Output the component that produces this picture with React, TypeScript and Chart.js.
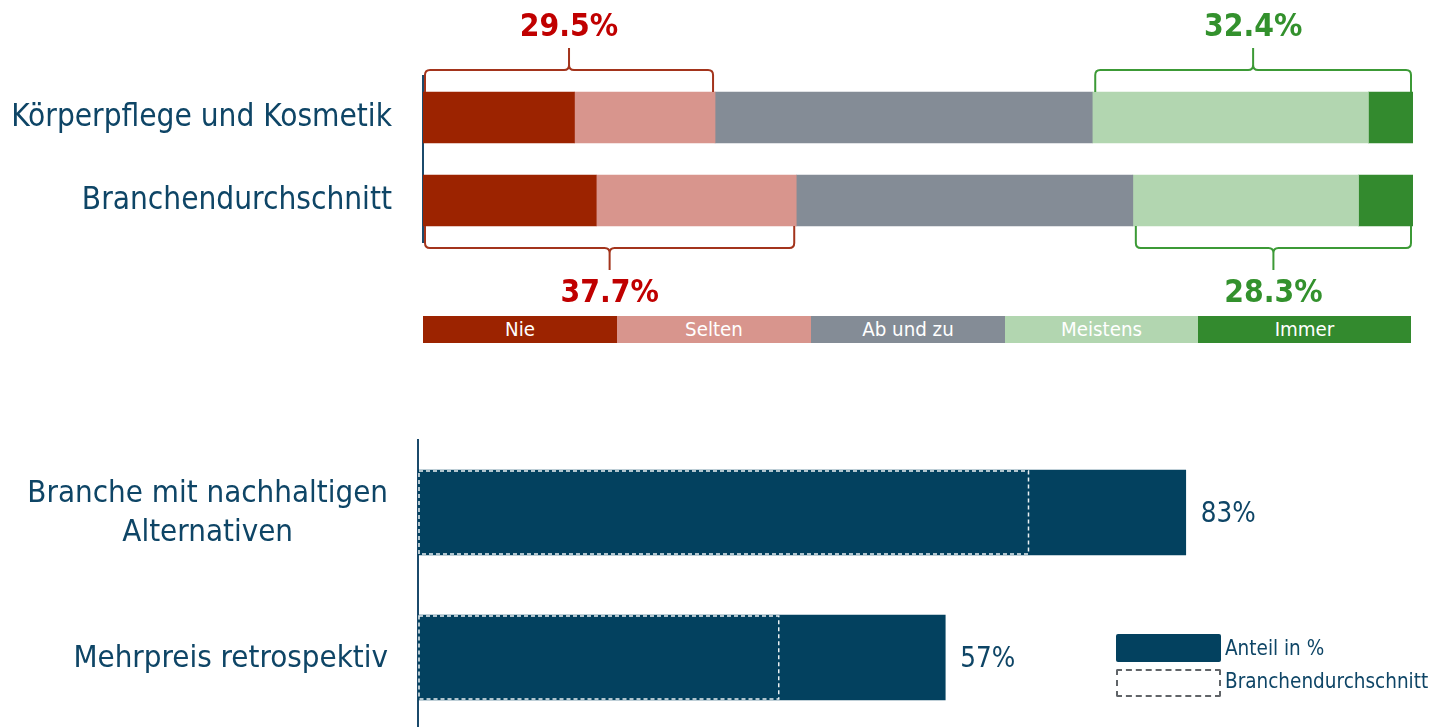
import React, { useEffect, useRef } from "react";
import { Chart, registerables } from "chart.js";

Chart.register(...registerables);

// ---------- data ----------
const topCategories = ["Körperpflege und Kosmetik", "Branchendurchschnitt"];
const frequencyLevels = ["Nie", "Selten", "Ab und zu", "Meistens", "Immer"];
const nieValues = [15.3, 17.5];
const seltenValues = [14.2, 20.2];
const abUndZuValues = [38.1, 34.0];
const meistensValues = [27.9, 22.8];
const immerValues = [4.5, 5.5];

const bottomCategories = [["Branche mit nachhaltigen", "Alternativen"], ["Mehrpreis retrospektiv"]];
const bottomSeriesLabels = ["Anteil in %", "Branchendurchschnitt"];
const shareValues = [83, 57];
const industryAverageValues = [66, 39];

// ---------- styles ----------
const FONT = "'DejaVu Sans Condensed', 'DejaVu Sans', sans-serif";
const levelColors = ["#9C2300", "#D8958D", "#848C96", "#B2D6B0", "#338A2E"];
const TEXT_BLUE = "#0E4566";
const BAR_BLUE = "#03415F";
const AXIS_BLUE = "#1B4A6B";
const RED_LINE = "#A3341C";
const RED_TEXT = "#C00000";
const GREEN_LINE = "#3C9A36";
const GREEN_TEXT = "#33912D";

function drawBracket(
  ctx: CanvasRenderingContext2D,
  x1: number,
  x2: number,
  yEnd: number,
  dir: number,
  lineColor: string,
  textColor: string,
  label: string
) {
  const r = 5;
  const yH = yEnd + dir * 22;
  const yTip = yH + dir * 22;
  const xm = (x1 + x2) / 2;
  ctx.save();
  ctx.strokeStyle = lineColor;
  ctx.lineWidth = 2;
  ctx.lineJoin = "round";
  ctx.beginPath();
  ctx.moveTo(x1, yEnd);
  ctx.lineTo(x1, yH - dir * r);
  ctx.quadraticCurveTo(x1, yH, x1 + r, yH);
  ctx.lineTo(xm - r, yH);
  ctx.quadraticCurveTo(xm, yH, xm, yH + dir * r);
  ctx.lineTo(xm, yTip);
  ctx.moveTo(xm, yH + dir * r);
  ctx.quadraticCurveTo(xm, yH, xm + r, yH);
  ctx.lineTo(x2 - r, yH);
  ctx.quadraticCurveTo(x2, yH, x2, yH - dir * r);
  ctx.lineTo(x2, yEnd);
  ctx.stroke();

  ctx.fillStyle = textColor;
  ctx.font = `bold 31.5px ${FONT}`;
  ctx.textAlign = "center";
  ctx.textBaseline = "alphabetic";
  const baseline = dir < 0 ? yTip - 12 : yTip + 32;
  ctx.fillText(label, xm, baseline);
  ctx.restore();
}

const bracketPlugin = {
  id: "brackets",
  afterDatasetsDraw(chart: any) {
    const ctx = chart.ctx as CanvasRenderingContext2D;
    const xs = chart.scales.x;
    const meta = chart.getDatasetMeta(0);
    [0, 1].forEach((row) => {
      const el = meta.data[row] as any;
      const dir = row === 0 ? -1 : 1;
      const yEnd = el.y + dir * (el.height / 2);
      const negSum = nieValues[row] + seltenValues[row];
      const posSum = meistensValues[row] + immerValues[row];
      drawBracket(
        ctx,
        xs.getPixelForValue(0) + 2,
        xs.getPixelForValue(negSum) - 2,
        yEnd,
        dir,
        RED_LINE,
        RED_TEXT,
        negSum.toFixed(1) + "%"
      );
      drawBracket(
        ctx,
        xs.getPixelForValue(100 - posSum) + 3,
        xs.getPixelForValue(100) - 2,
        yEnd,
        dir,
        GREEN_LINE,
        GREEN_TEXT,
        posSum.toFixed(1) + "%"
      );
    });
  },
};

const bottomPlugin = {
  id: "bottomDecor",
  afterDatasetsDraw(chart: any) {
    const ctx = chart.ctx as CanvasRenderingContext2D;
    ctx.save();
    // dashed industry-average outlines
    const avgMeta = chart.getDatasetMeta(1);
    ctx.strokeStyle = "rgba(255,255,255,0.92)";
    ctx.lineWidth = 1.5;
    ctx.setLineDash([4, 3]);
    avgMeta.data.forEach((el: any) => {
      const top = el.y - el.height / 2;
      ctx.strokeRect(el.base + 1, top + 1, el.x - el.base - 1, el.height - 2);
    });
    ctx.setLineDash([]);

    // value labels
    const shareMeta = chart.getDatasetMeta(0);
    ctx.fillStyle = TEXT_BLUE;
    ctx.font = `27.5px ${FONT}`;
    ctx.textAlign = "left";
    ctx.textBaseline = "middle";
    shareMeta.data.forEach((el: any, i: number) => {
      ctx.fillText(shareValues[i] + "%", el.x + 15, el.y + 2);
    });

    // category labels (right-aligned block, centered lines)
    const ys = chart.scales.y;
    ctx.font = `31px ${FONT}`;
    ctx.textAlign = "center";
    bottomCategories.forEach((lines, i) => {
      const yc = ys.getPixelForValue(i);
      const w = Math.max(...lines.map((l) => ctx.measureText(l).width));
      const cx = ys.right - 30 - w / 2;
      const lh = 39.5;
      lines.forEach((l, j) => {
        ctx.fillText(l, cx, yc + 1 + (j - (lines.length - 1) / 2) * lh);
      });
    });
    ctx.restore();
  },
};

function TopChart() {
  const ref = useRef<HTMLCanvasElement>(null);
  useEffect(() => {
    if (!ref.current) return;
    const series = [nieValues, seltenValues, abUndZuValues, meistensValues, immerValues];
    const chart = new Chart(ref.current, {
      type: "bar",
      data: {
        labels: topCategories,
        datasets: series.map((values, i) => ({
          label: frequencyLevels[i],
          data: values,
          backgroundColor: levelColors[i],
          borderWidth: 0,
          barThickness: 51,
        })),
      },
      options: {
        indexAxis: "y",
        responsive: false,
        animation: false,
        layout: { padding: { left: 0, right: 19, top: 76, bottom: 68 } },
        plugins: { legend: { display: false }, tooltip: { enabled: false } },
        scales: {
          x: { display: false, stacked: true, min: 0, max: 100 },
          y: {
            stacked: true,
            afterFit: (s: any) => {
              s.width = 423;
            },
            grid: { display: false, drawTicks: false },
            border: { display: true, color: AXIS_BLUE, width: 2 },
            ticks: {
              color: TEXT_BLUE,
              padding: 31,
              font: { family: FONT, size: 31.3 },
            },
          },
        },
      },
      plugins: [bracketPlugin],
    } as any);
    return () => chart.destroy();
  }, []);
  return (
    <canvas
      ref={ref}
      width={1432}
      height={310}
      style={{ position: "absolute", left: 0, top: 0, width: 1432, height: 310 }}
    />
  );
}

function BottomChart() {
  const ref = useRef<HTMLCanvasElement>(null);
  useEffect(() => {
    if (!ref.current) return;
    const chart = new Chart(ref.current, {
      type: "bar",
      data: {
        labels: bottomCategories.map((l) => l.join(" ")),
        datasets: [
          {
            label: bottomSeriesLabels[0],
            data: shareValues,
            backgroundColor: BAR_BLUE,
            borderWidth: 0,
            barThickness: 85,
            grouped: false,
          },
          {
            label: bottomSeriesLabels[1],
            data: industryAverageValues,
            backgroundColor: "rgba(0,0,0,0)",
            borderWidth: 0,
            barThickness: 85,
            grouped: false,
          },
        ],
      },
      options: {
        indexAxis: "y",
        responsive: false,
        animation: false,
        layout: { padding: { left: 0, right: 89, top: 10, bottom: 0 } },
        plugins: { legend: { display: false }, tooltip: { enabled: false } },
        scales: {
          x: { display: false, min: 0, max: 100 },
          y: {
            afterFit: (s: any) => {
              s.width = 418;
            },
            grid: { display: false, drawTicks: false },
            border: { display: true, color: AXIS_BLUE, width: 2 },
            ticks: { display: false },
          },
        },
      },
      plugins: [bottomPlugin],
    } as any);
    return () => chart.destroy();
  }, []);
  return (
    <canvas
      ref={ref}
      width={1432}
      height={300}
      style={{ position: "absolute", left: 0, top: 430, width: 1432, height: 300 }}
    />
  );
}

const legendWidths = [194, 194, 194, 193, 213];

export default function App() {
  return (
    <div
      style={{
        position: "fixed",
        left: 0,
        top: 0,
        width: 1432,
        height: 727,
        overflow: "hidden",
        background: "#ffffff",
        fontFamily: FONT,
      }}
    >
      <TopChart />
      <div
        style={{
          position: "absolute",
          left: 423,
          top: 316,
          height: 27,
          display: "flex",
        }}
      >
        {frequencyLevels.map((lvl, i) => (
          <div
            key={lvl}
            style={{
              width: legendWidths[i],
              height: 27,
              background: levelColors[i],
              color: "#ffffff",
              fontSize: 20.3,
              lineHeight: "27px",
              textAlign: "center",
            }}
          >
            {lvl}
          </div>
        ))}
      </div>
      <BottomChart />
      <div
        style={{
          position: "absolute",
          left: 1116,
          top: 634,
          width: 105,
          height: 28,
          background: BAR_BLUE,
          borderRadius: 2,
        }}
      />
      <div
        style={{
          position: "absolute",
          left: 1116,
          top: 669,
          width: 101,
          height: 24,
          border: "2px dashed #606468",
          borderRadius: 2,
        }}
      />
      <div
        style={{
          position: "absolute",
          left: 1225,
          top: 636,
          fontSize: 20.5,
          lineHeight: "24px",
          color: TEXT_BLUE,
          whiteSpace: "nowrap",
        }}
      >
        {bottomSeriesLabels[0]}
      </div>
      <div
        style={{
          position: "absolute",
          left: 1225,
          top: 669,
          fontSize: 20.5,
          lineHeight: "24px",
          color: TEXT_BLUE,
          whiteSpace: "nowrap",
        }}
      >
        {bottomSeriesLabels[1]}
      </div>
    </div>
  );
}
